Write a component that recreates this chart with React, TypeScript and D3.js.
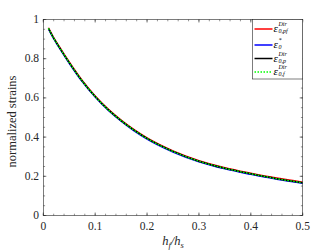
import * as d3 from 'd3';
import * as React from 'react';

// h_f / h_s sample points
const ratios = [0.01, 0.02, 0.03, 0.05, 0.075, 0.1, 0.125, 0.15, 0.175, 0.2, 0.25, 0.3, 0.35, 0.4, 0.45, 0.5];

const epsPf = [0.958, 0.908, 0.865, 0.783, 0.689, 0.610, 0.543, 0.487, 0.438, 0.396, 0.330, 0.280, 0.244, 0.216, 0.191, 0.170];
const epsStar = [0.952, 0.902, 0.859, 0.777, 0.683, 0.604, 0.537, 0.481, 0.432, 0.390, 0.324, 0.274, 0.238, 0.210, 0.185, 0.164];
const epsP = [0.955, 0.905, 0.862, 0.780, 0.686, 0.607, 0.540, 0.484, 0.435, 0.393, 0.327, 0.277, 0.241, 0.213, 0.188, 0.167];
const epsF = [0.955, 0.905, 0.862, 0.780, 0.686, 0.607, 0.540, 0.484, 0.435, 0.393, 0.327, 0.277, 0.241, 0.213, 0.188, 0.167];

const xTicks = [0, 0.1, 0.2, 0.3, 0.4, 0.5];
const yTicks = [0, 0.2, 0.4, 0.6, 0.8, 1];

const series = [
  { name: 'pf', sup: 'Dir', sub: '0,pf', values: epsPf, color: '#ff0000', dash: '' },
  { name: 'star', sup: '*', sub: '0', values: epsStar, color: '#0000ff', dash: '' },
  { name: 'p', sup: 'Dir', sub: '0,p', values: epsP, color: '#000000', dash: '' },
  { name: 'f', sup: 'Dir', sub: '0,f', values: epsF, color: '#00ff00', dash: '1.5,1.5' },
];

const W = 334;
const H = 251;
const left = 43.3;
const right = 302.7;
const top = 19.5;
const bottom = 215.5;
const font = "'Times New Roman', 'Liberation Serif', serif";
const axisColor = '#262626';

const App = () => {
  const x = d3.scaleLinear().domain([0, 0.5]).range([left, right]);
  const y = d3.scaleLinear().domain([0, 1]).range([bottom, top]);
  const xMinor = d3.range(0, 0.5001, 0.02);
  const yMinor = d3.range(0, 1.0001, 0.05);

  const lineGen = (vals: number[]) =>
    d3.line<number>()
      .x((_, i) => x(ratios[i]))
      .y((v) => y(v))
      .curve(d3.curveMonotoneX)(vals);

  const legX = 252.5;
  const legRows = [29, 45, 58.5, 72];

  return (
    <svg width={W} height={H} style={{ position: 'absolute', left: 0, top: 0, fontFamily: font }}>
      <rect x={0} y={0} width={W} height={H} fill='#fff' />

      {series.map((s) => (
        <path key={s.name} d={lineGen(s.values) || ''} fill='none' stroke={s.color}
          strokeWidth={1.5} strokeDasharray={s.dash} />
      ))}

      {/* minor ticks */}
      {xMinor.map((t, i) => (
        <g key={'xm' + i} stroke={axisColor} strokeWidth={0.5}>
          <line x1={x(t)} x2={x(t)} y1={bottom} y2={bottom - 1.8} />
          <line x1={x(t)} x2={x(t)} y1={top} y2={top + 1.8} />
        </g>
      ))}
      {yMinor.map((t, i) => (
        <g key={'ym' + i} stroke={axisColor} strokeWidth={0.5}>
          <line x1={left} x2={left + 1.8} y1={y(t)} y2={y(t)} />
          <line x1={right} x2={right - 1.8} y1={y(t)} y2={y(t)} />
        </g>
      ))}
      {xTicks.map((t) => (
        <g key={'x' + t}>
          <line x1={x(t)} x2={x(t)} y1={bottom} y2={bottom - 3} stroke={axisColor} strokeWidth={0.6} />
          <line x1={x(t)} x2={x(t)} y1={top} y2={top + 3} stroke={axisColor} strokeWidth={0.6} />
          <text x={x(t)} y={230} textAnchor='middle' fontSize={11.5} fill='#262626'>{t}</text>
        </g>
      ))}
      {yTicks.map((t) => (
        <g key={'y' + t}>
          <line x1={left} x2={left + 3} y1={y(t)} y2={y(t)} stroke={axisColor} strokeWidth={0.6} />
          <line x1={right} x2={right - 3} y1={y(t)} y2={y(t)} stroke={axisColor} strokeWidth={0.6} />
          <text x={39} y={y(t) + 3.5} textAnchor='end' fontSize={11.5} fill='#262626'>{t}</text>
        </g>
      ))}

      <rect x={left} y={top} width={right - left} height={bottom - top} fill='none' stroke={axisColor} strokeWidth={0.6} />

      <text transform={`translate(16,${(top + bottom) / 2 + 4}) rotate(-90)`} textAnchor='middle'
        fontSize={12.5} fill='#262626'>normalized strains</text>

      <text x={(left + right) / 2} y={245} textAnchor='middle' fontSize={12.5}
        fill='#262626' fontStyle='italic'>
        h<tspan fontSize={8.5} dy={2.5}>f</tspan><tspan dy={-2.5}>/</tspan>h<tspan fontSize={8.5} dy={2.5}>s</tspan>
      </text>

      {/* legend */}
      <rect x={legX} y={top} width={right - legX} height={79 - top} fill='#fff' stroke={axisColor} strokeWidth={0.6} />
      {series.map((s, i) => (
        <g key={'leg' + s.name}>
          <line x1={legX + 2} x2={legX + 20} y1={legRows[i]} y2={legRows[i]} stroke={s.color}
            strokeWidth={1.5} strokeDasharray={s.dash} />
          <text x={legX + 21} y={legRows[i] + 3} fontSize={11} fontStyle='italic' fill='#000'>ε</text>
          <text x={legX + 26} y={legRows[i] - 3} fontSize={6} fontStyle='italic' fill='#000'>{s.sup}</text>
          <text x={legX + 26} y={legRows[i] + 4} fontSize={6} fontStyle='italic' fill='#000'>{s.sub}</text>
        </g>
      ))}
    </svg>
  );
};

export default App;
